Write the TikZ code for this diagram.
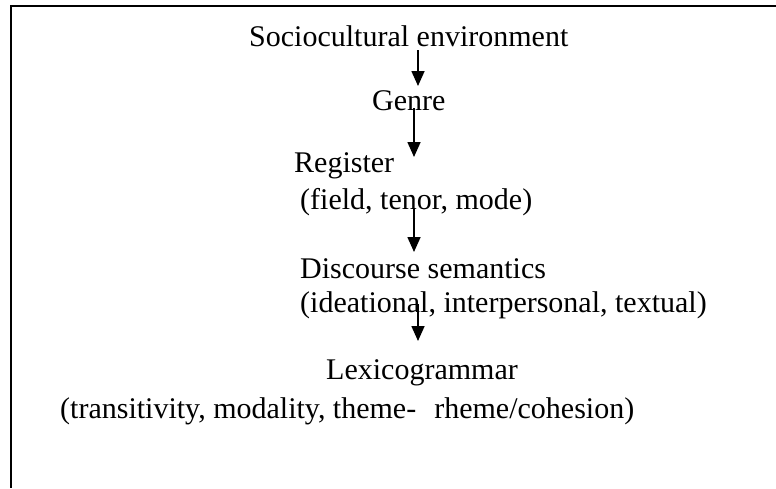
\documentclass[tikz,border=0pt]{standalone}
\usepackage{fontspec}
\setmainfont{Liberation Serif}
\usetikzlibrary{arrows.meta}
\begin{document}
\begin{tikzpicture}[x=1pt,y=-1pt,
  lbl/.style={anchor=base west,inner sep=0pt,font=\fontsize{30}{36}\selectfont},
  flow/.style={line width=1.6pt,-{Triangle[length=15pt,width=13pt]}},
  frame/.style={line width=2.5pt}]
\useasboundingbox (0,0) rectangle (776,488);
\draw[frame] (776,6) -- (11,6) -- (11,488);
\node[lbl] (soc) at (249,46) {Sociocultural environment};
\node[lbl] (gen) at (372,110) {Genre};
\node[lbl] (reg) at (294,172) {Register};
\node[lbl] (regx) at (300,209) {(field, tenor, mode)};
\node[lbl] (dis) at (300,278) {Discourse semantics};
\node[lbl] (disx) at (300,312) {(ideational, interpersonal, textual)};
\node[lbl] (lex) at (326,379) {Lexicogrammar};
\node[lbl] (lexx) at (60,418) {(transitivity, modality, theme-\hspace{18pt}rheme/cohesion)};
\coordinate (a1s) at (418,50);
\coordinate (a1e) at (418,86);
\coordinate (a2s) at (414,108);
\coordinate (a2e) at (414,157);
\coordinate (a3s) at (414,208);
\coordinate (a3e) at (414,252);
\coordinate (a4s) at (418,304);
\coordinate (a4e) at (418,341);
\draw[flow] (a1s) -- (a1e);
\draw[flow] (a2s) -- (a2e);
\draw[flow] (a3s) -- (a3e);
\draw[flow] (a4s) -- (a4e);
\end{tikzpicture}
\end{document}
